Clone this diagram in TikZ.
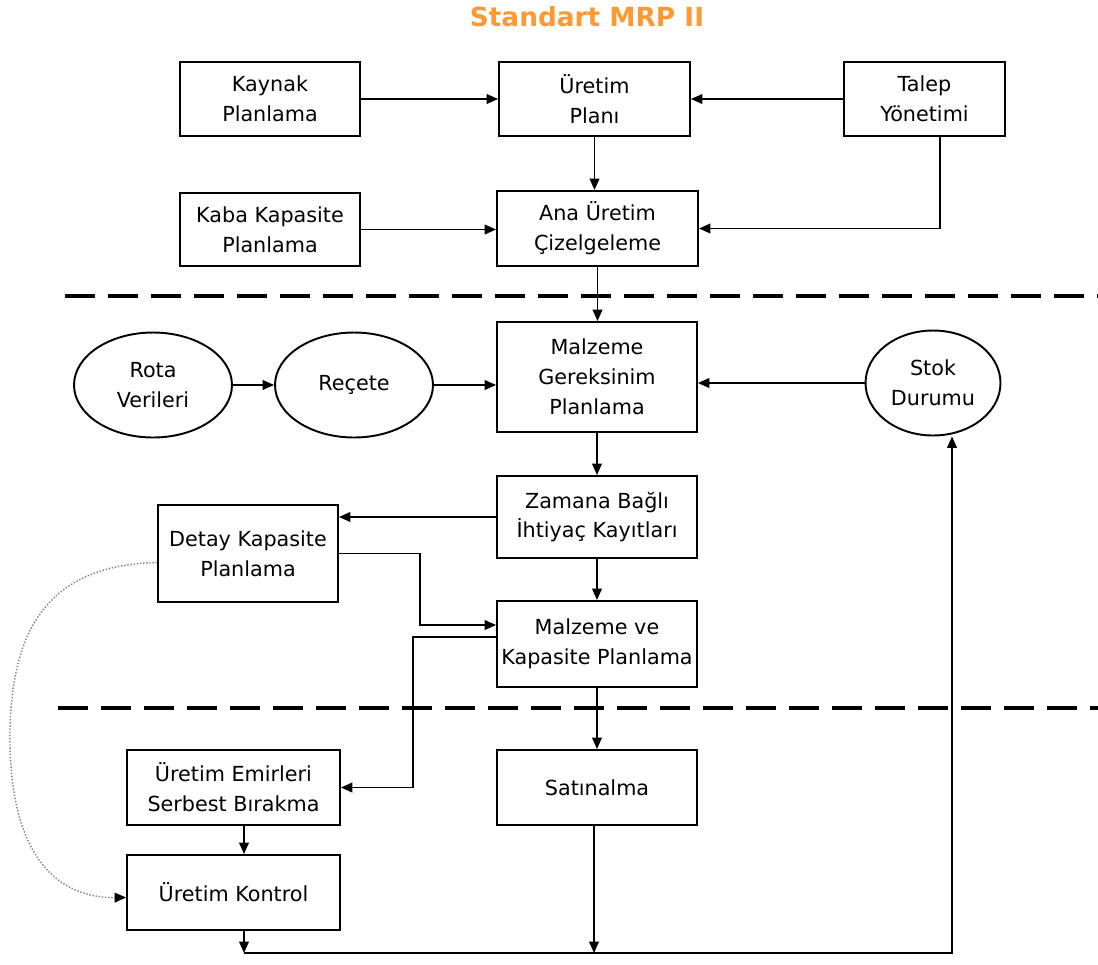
\documentclass[tikz,border=0pt]{standalone}
\usepackage{fontspec}
\setmainfont{DejaVu Sans}
\usepackage{tikz}
\usepackage{xcolor}
\usetikzlibrary{arrows.meta,shapes.geometric}
\definecolor{titleorange}{RGB}{255,153,51}

\begin{document}
\begin{tikzpicture}[x=0.02cm,y=-0.02cm,
    box/.style={draw, line width=1.1pt, align=center, inner sep=1pt,
      font=\fontsize{11.8}{17}\selectfont},
    oval/.style={draw, ellipse, line width=1.1pt, align=center, inner sep=0pt,
      minimum width=3.16cm, minimum height=2.1cm, font=\fontsize{11.8}{17}\selectfont},
    arr/.style={-{Triangle[length=6.5pt,width=5.5pt]}, line width=1pt},
    sep/.style={line width=2.8pt, dash pattern=on 0.6cm off 0.26cm}]
    \useasboundingbox (0,0) rectangle (1098,964);
    \node[font=\bfseries\fontsize{15}{18}\selectfont, color=titleorange] (title) at (587,17) {Standart MRP II};

    % ust kisim
    \node[box, minimum width=3.6cm, minimum height=1.48cm] (kaynak) at (270,99) {Kaynak\\Planlama};
    \node[box, minimum width=3.82cm, minimum height=1.48cm] (uplan) at (594.5,99) {Üretim\\Planı};
    \node[box, minimum width=3.22cm, minimum height=1.48cm] (talep) at (924.5,99) {Talep\\Yönetimi};
    \node[box, minimum width=3.6cm, minimum height=1.46cm] (kaba) at (270,229.5) {Kaba Kapasite\\Planlama};
    \node[box, minimum width=4.02cm, minimum height=1.5cm] (ana) at (597.5,228.5) {Ana Üretim\\Çizelgeleme};

    \draw[sep] (65,296) -- (1098,296);

    % orta kisim
    \node[oval] (rota) at (153,385) {Rota\\Verileri};
    \node[oval] (recete) at (354,385) {Reçete};
    \node[oval, minimum width=2.7cm] (stok) at (933,383) {Stok\\Durumu};
    \node[box, minimum width=4cm, minimum height=2.2cm] (mgp) at (597,377) {Malzeme\\Gereksinim\\Planlama};
    \node[box, minimum width=4cm, minimum height=1.64cm] (zaman) at (597,517) {Zamana Bağlı\\İhtiyaç Kayıtları};
    \node[box, minimum width=3.6cm, minimum height=1.94cm] (detay) at (248,553.5) {Detay Kapasite\\Planlama};
    \node[box, minimum width=4cm, minimum height=1.72cm] (mkp) at (597,644) {Malzeme ve\\Kapasite Planlama};

    \draw[sep] (58,708) -- (1098,708);

    % alt kisim
    \node[box, minimum width=4.26cm, minimum height=1.5cm] (emir) at (233.5,787.5) {Üretim Emirleri\\Serbest Bırakma};
    \node[box, minimum width=4cm, minimum height=1.5cm] (satin) at (597,787.5) {Satınalma};
    \node[box, minimum width=4.26cm, minimum height=1.5cm] (kontrol) at (233.5,892.5) {Üretim Kontrol};

    \coordinate (tj) at (940,136);
    \coordinate (dk) at (420,625);
    \coordinate (ue) at (413,637);
    \coordinate (b1) at (244,953);
    \coordinate (b2) at (594,953);
    \coordinate (b3) at (952,953);

    \draw[arr] (kaynak.east) -- (uplan.west);
    \draw[arr] (talep.west) -- (uplan.east);
    \draw[arr] (uplan.south) -- (uplan.south |- ana.north);
    \draw[arr] (tj) |- (ana.east);
    \draw[arr] (kaba.east) -- (kaba.east -| ana.west);
    \draw[arr] (ana.south) -- (ana.south |- mgp.north);
    \draw[arr] (rota.east) -- (recete.west);
    \draw[arr] (recete.east) -- (recete.east -| mgp.west);
    \draw[arr] (stok.west) -- (stok.west -| mgp.east);
    \draw[arr] (mgp.south) -- (zaman.north);
    \draw[arr] (zaman.west) -- (zaman.west -| detay.east);
    \draw[arr] (zaman.south) -- (mkp.north);
    \draw[arr] (detay.east) -| (dk) -- (dk -| mkp.west);
    \draw[arr] (ue -| mkp.west) -- (ue) |- (emir.east);
    \draw[arr] (mkp.south) -- (satin.north);
    \draw[arr] ([xshift=0.21cm]emir.south) -- ([xshift=0.21cm]kontrol.north);
    \draw[arr] ([xshift=0.21cm]kontrol.south) -- (b1);
    \draw[arr] (satin.south -| b2) -- (b2);
    \draw[arr] (b1) -- (b3) -- (b3 |- stok.south);
    % kesikli geri besleme
    \draw[-{Triangle[length=6.5pt,width=5.5pt,color=black]}, gray, densely dotted, line width=0.8pt]
      ([yshift=-0.18cm]detay.west) .. controls (40,565) and (12,640) .. (10,730)
      .. controls (8,860) and (60,898) .. ([yshift=-0.1cm]kontrol.west);
\end{tikzpicture}
\end{document}
